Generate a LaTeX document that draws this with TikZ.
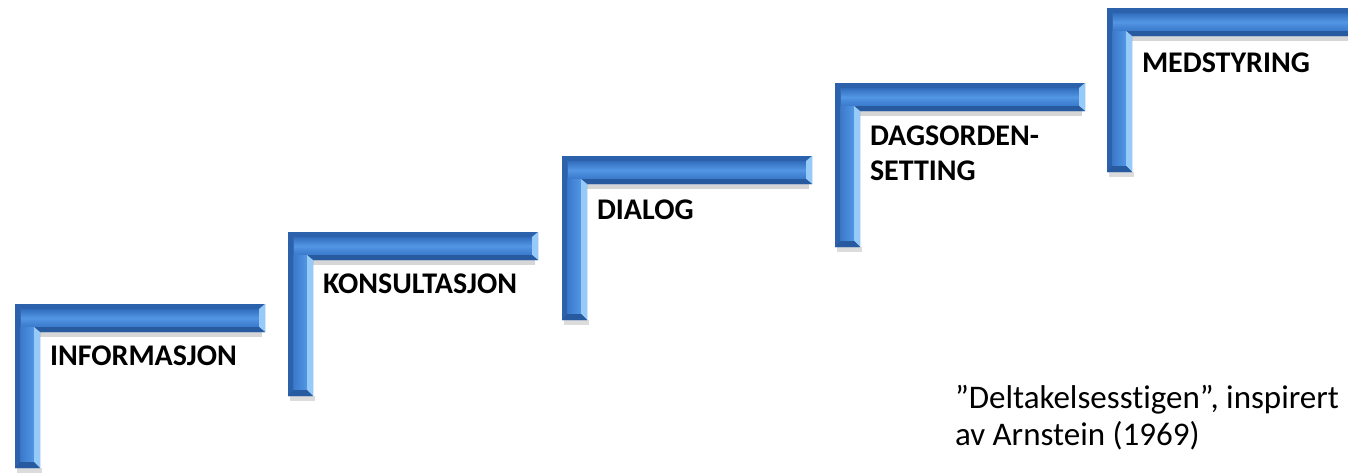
\documentclass[tikz,border=0pt]{standalone}
\usepackage{fontspec}
\setmainfont{Carlito}[Ligatures=NoCommon]
\usepackage{tikz}

\definecolor{edgeColor}{RGB}{44,98,172}
\definecolor{faceTop}{RGB}{58,120,202}
\definecolor{faceMid}{RGB}{82,150,228}
\definecolor{faceLow}{RGB}{50,110,190}
\definecolor{lightColor}{RGB}{150,202,248}
\definecolor{darkColor}{RGB}{40,90,160}
\definecolor{shadowColor}{gray}{0.55}

% one L-shaped step, top left corner at (#1,#2)
\newcommand{\trinn}[2]{%
\begin{scope}[shift={(#1,#2)}]
\path[fill=shadowColor,fill opacity=0.35] ( 25.00, 28.00) rectangle (247.00, 33.00);
\path[fill=shadowColor,fill opacity=0.30] (  2.00,164.00) rectangle ( 27.00,169.00);
\path[fill=faceLow] (  0.00,  0.00) -- (250.00,  0.00) -- (250.00, 28.00) -- ( 25.00, 28.00) -- ( 25.00,164.00) -- (  0.00,164.00) -- cycle;
\shade[top color=faceLow,bottom color=faceTop,middle color=faceMid] (  6.00,  5.00) rectangle (244.00, 23.00);
\shade[left color=faceTop,right color=faceMid] (  5.00, 23.00) rectangle ( 19.00,158.00);
\path[fill=edgeColor] (  0.00,  0.00) -- (250.00,  0.00) -- (244.00,  5.00) -- (  5.00,  5.00) -- cycle;
\path[fill=lightColor] (250.00,  0.00) -- (250.00, 28.00) -- (244.00, 23.00) -- (244.00,  5.00) -- cycle;
\path[fill=darkColor] (250.00, 28.00) -- ( 25.00, 28.00) -- ( 19.00, 23.00) -- (244.00, 23.00) -- cycle;
\path[fill=lightColor] ( 25.00, 28.00) -- ( 25.00,164.00) -- ( 19.00,158.00) -- ( 19.00, 23.00) -- cycle;
\path[fill=edgeColor] (  0.00,  0.00) -- (  5.00,  5.00) -- (  5.00,158.00) -- (  0.00,164.00) -- cycle;
\path[fill=darkColor] (  0.00,164.00) -- ( 25.00,164.00) -- ( 19.00,158.00) -- (  5.00,158.00) -- cycle;
\end{scope}}

\begin{document}
\begin{tikzpicture}[x=1pt,y=-1pt,
  lbl/.style={text=black,anchor=base west,inner sep=0pt,outer sep=0pt,font=\bfseries\fontsize{30}{36}\selectfont},
  note/.style={text=black,anchor=base west,inner sep=0pt,outer sep=0pt,font=\fontsize{33}{40}\selectfont}]
\definecolor{fillColor}{RGB}{255,255,255}
\path[use as bounding box,fill=fillColor] (0,0) rectangle (1348,472);
\begin{scope}
\path[clip] (  0.00,  0.00) rectangle (1348.00,472.00);

\trinn{  15.00}{304.00}
\trinn{ 288.00}{232.00}
\trinn{ 562.00}{156.00}
\trinn{ 835.00}{ 83.00}
\trinn{1107.00}{  8.00}

\node[lbl] (informasjon) at (  50.00,365.00) {INFORMASJON};

\node[lbl] (konsultasjon) at ( 323.00,293.00) {KONSULTASJON};

\node[lbl] (dialog) at ( 597.00,219.00) {DIALOG};

\node[lbl] (dagsorden) at ( 870.00,145.00) {DAGSORDEN-};

\node[lbl] (setting) at ( 870.00,180.00) {SETTING};

\node[lbl] (medstyring) at (1142.00, 72.00) {MEDSTYRING};
\end{scope}
\begin{scope}
\node[note] (stige) at ( 955.00,408.00) {”Deltakelsesstigen”, inspirert};

\node[note] (arnstein) at ( 955.00,445.00) {av Arnstein (1969)};
\end{scope}
\end{tikzpicture}
\end{document}
